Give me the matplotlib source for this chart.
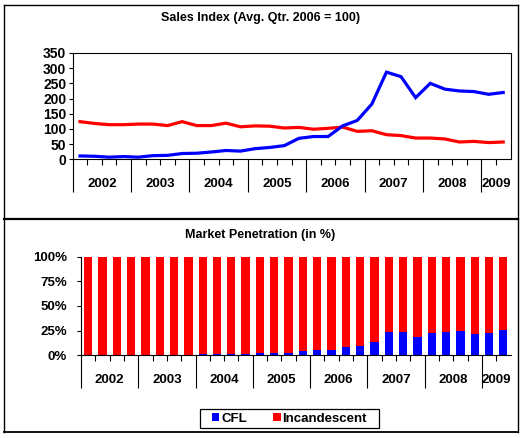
import matplotlib
matplotlib.use("Agg")
import matplotlib.pyplot as plt
from matplotlib.lines import Line2D
from matplotlib.patches import Rectangle, Patch
from matplotlib.ticker import FixedLocator, FuncFormatter

plt.rcParams['font.family'] = ['Liberation Sans', 'DejaVu Sans']
plt.rcParams['font.weight'] = 'bold'

# ---------------- data ----------------
years = ['2002', '2003', '2004', '2005', '2006', '2007', '2008', '2009']
quarters_per_year = [4, 4, 4, 4, 4, 4, 4, 2]

cfl_index = [11, 10, 7, 9, 7, 12, 13, 19, 20, 24, 29, 27, 35, 39, 45, 69, 75, 75,
             110, 128, 182, 287, 272, 203, 250, 231, 225, 223, 214, 220]
incandescent_index = [124, 118, 114, 114, 116, 116, 111, 124, 111, 111, 119, 107, 110, 109,
                      103, 105, 99, 102, 106, 92, 94, 81, 78, 70, 70, 67, 57, 59, 55, 57]

cfl_share = [0.3, 0.3, 0.3, 0.3, 0.3, 0.3, 0.3, 0.3, 1.0, 1.0, 1.0, 1.3, 2.4, 2.4, 2.7,
             4.7, 5.7, 5.8, 8.1, 9.8, 13.9, 24.0, 24.0, 18.2, 23.0, 24.0, 24.7, 22.0, 23.0, 25.7]
incandescent_share = [99.7, 99.7, 99.7, 99.7, 99.7, 99.7, 99.7, 99.7, 99.0, 99.0, 99.0, 98.7,
                      97.6, 97.6, 97.3, 95.3, 94.3, 94.2, 91.9, 90.2, 86.1, 76.0, 76.0, 81.8,
                      77.0, 76.0, 75.3, 78.0, 77.0, 74.3]

series_names = ['CFL', 'Incandescent']
titles = ['Sales Index (Avg. Qtr. 2006 = 100)', 'Market Penetration (in %)']

BLUE = '#0000FF'
RED = '#FF0000'

W, H = 523, 438
fig = plt.figure(figsize=(W / 100, H / 100), dpi=100)


def fx(x):
    return x / W


def fy(y):
    return 1 - y / H


def add_axes_px(left, top, right, bottom):
    return fig.add_axes([fx(left), fy(bottom), (right - left) / W, (bottom - top) / H])


n = len(cfl_index)
xs = [i + 0.5 for i in range(n)]

# year boundaries / centers
bounds = [0]
for q in quarters_per_year:
    bounds.append(bounds[-1] + q)
year_starts = bounds[:-1]
centers = [(bounds[k] + bounds[k + 1]) / 2 for k in range(len(years))]
quarter_bounds = [b for b in range(1, n) if b not in year_starts]


def style_category_axis(ax):
    ax.set_xlim(0, n)
    ax.xaxis.set_major_locator(FixedLocator(year_starts))
    ax.xaxis.set_minor_locator(FixedLocator(quarter_bounds))
    ax.tick_params(axis='x', which='major', direction='out', length=24, width=0.8,
                   labelbottom=False, color='black')
    ax.tick_params(axis='x', which='minor', direction='out', length=4, width=0.8,
                   labelbottom=False, color='black')
    for c, lab in zip(centers, years):
        ax.annotate(lab, xy=(c, 0), xycoords=('data', 'axes fraction'),
                    xytext=(0, -17.8), textcoords='offset points',
                    ha='center', va='center', fontsize=9.5, fontweight='bold')


# ---------------- top chart ----------------
ax1 = add_axes_px(72.7, 53.0, 510.5, 159.3)
ax1.plot(xs, cfl_index, color=BLUE, lw=2.3, solid_joinstyle='miter', zorder=3)
ax1.plot(xs, incandescent_index, color=RED, lw=2.3, solid_joinstyle='miter', zorder=2)
ax1.set_ylim(0, 350)
ax1.set_yticks(range(0, 351, 50))
ax1.tick_params(axis='y', direction='out', length=3.1, width=0.8, pad=1.5, labelsize=10)
for lab in ax1.get_yticklabels():
    lab.set_fontweight('bold')
style_category_axis(ax1)
for s in ax1.spines.values():
    s.set_linewidth(0.8)
    s.set_color('black')

# ---------------- bottom chart ----------------
ax2 = add_axes_px(81.0, 256.7, 510.5, 355.3)
ax2.bar(xs, cfl_share, width=0.58, color=BLUE, label=series_names[0], zorder=2)
ax2.bar(xs, incandescent_share, width=0.58, bottom=cfl_share, color=RED,
        label=series_names[1], zorder=2)
ax2.set_ylim(0, 100)
ax2.set_yticks(range(0, 101, 25))
ax2.yaxis.set_major_formatter(FuncFormatter(lambda v, p: f"{int(v)}%"))
ax2.tick_params(axis='y', direction='out', length=3.1, width=0.8, pad=6.8, labelsize=9.5)
for lab in ax2.get_yticklabels():
    lab.set_fontweight('bold')
style_category_axis(ax2)
ax2.spines['top'].set_visible(False)
ax2.spines['right'].set_visible(False)
for s in ('left', 'bottom'):
    ax2.spines[s].set_linewidth(0.8)
    ax2.spines[s].set_color('black')

# ---------------- titles ----------------
fig.text(fx(261), fy(18.3), titles[0], ha='center', va='center', fontsize=9, fontweight='bold')
fig.text(fx(260.5), fy(235), titles[1], ha='center', va='center', fontsize=9, fontweight='bold')

# ---------------- legend ----------------
handles = [Patch(facecolor=BLUE, edgecolor='none'), Patch(facecolor=RED, edgecolor='none')]
fig.legend(handles, series_names, loc='center', bbox_to_anchor=(fx(289.5), fy(418.5)),
           ncol=2, frameon=False, prop={'size': 9.5, 'weight': 'bold'},
           handlelength=0.55, handleheight=0.55, handletextpad=0.15, columnspacing=2.0,
           borderpad=0.2)
fig.add_artist(Rectangle((fx(200), fy(428)), (379 - 200) / W, 19 / H,
                         transform=fig.transFigure, fill=False, edgecolor='black', lw=0.9))

# ---------------- outer frames ----------------
def hline(y, x0, x1, lw):
    fig.add_artist(Line2D([fx(x0), fx(x1)], [fy(y), fy(y)], transform=fig.transFigure,
                          color='black', lw=lw))


def vline(x, y0, y1, lw):
    fig.add_artist(Line2D([fx(x), fx(x)], [fy(y0), fy(y1)], transform=fig.transFigure,
                          color='black', lw=lw))


hline(5, 4, 518, 1.0)
hline(219, 4, 518, 1.6)
hline(431.5, 4, 518, 1.3)
vline(4.3, 5, 431.5, 1.0)
vline(518, 5, 431.5, 1.0)

fig.savefig('out.png', dpi=100)
